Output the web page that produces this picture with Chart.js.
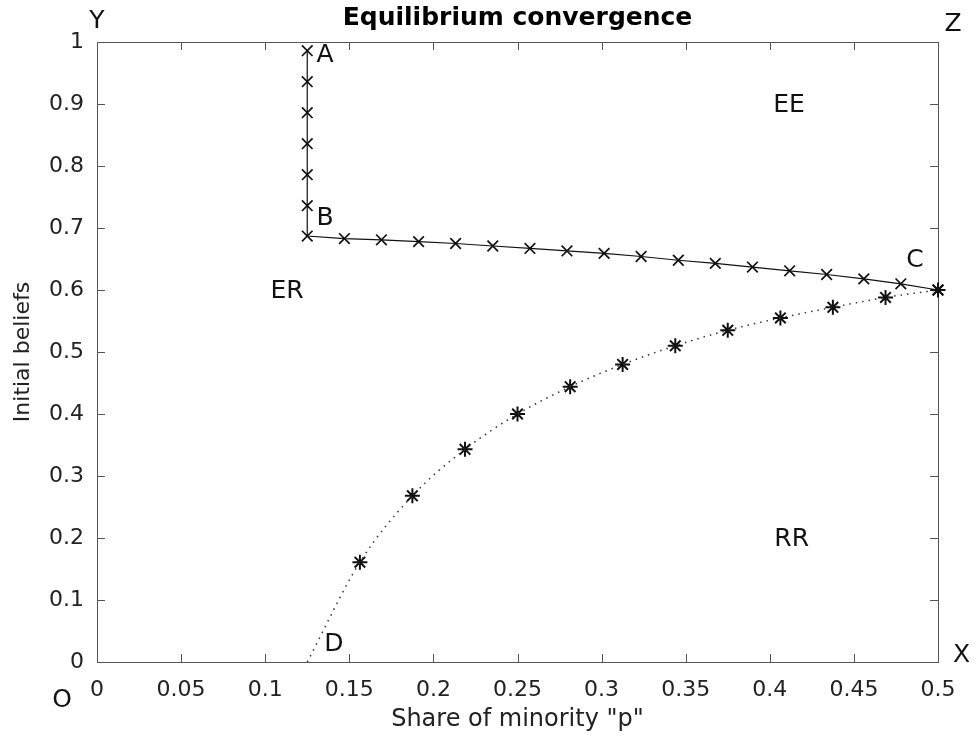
<!DOCTYPE html>
<html>
<head>
<meta charset="utf-8">
<script src="https://cdn.jsdelivr.net/npm/chart.js@4"></script>
<style>
  html, body { margin: 0; padding: 0; background: #fff; }
  #wrap { width: 974px; height: 744px; }
</style>
</head>
<body>
<div id="wrap"><canvas id="graf"></canvas></div>
<script>
// trajectory A -> B -> C (crosses)
const trajP = [0.125, 0.125, 0.125, 0.125, 0.125, 0.125, 0.125,
  0.1471, 0.1691, 0.1912, 0.2132, 0.2353, 0.2574, 0.2794, 0.3015, 0.3235,
  0.3456, 0.3676, 0.3897, 0.4118, 0.4338, 0.4559, 0.4779, 0.5];
const trajB = [0.986, 0.936, 0.886, 0.836, 0.786, 0.736, 0.687,
  0.683, 0.681, 0.678, 0.675, 0.671, 0.667, 0.663, 0.659, 0.654,
  0.648, 0.643, 0.637, 0.631, 0.625, 0.618, 0.610, 0.600];

// boundary D -> C (asterisks on a dotted curve)
const bordP = [0.1563, 0.1875, 0.2188, 0.25, 0.2813, 0.3125, 0.3438, 0.375, 0.4063, 0.4375, 0.4688, 0.5];
const bordB = [0.161, 0.268, 0.343, 0.400, 0.444, 0.480, 0.510, 0.535, 0.555, 0.572, 0.588, 0.600];
const pontoD = [0.125, 0];

// axis ticks
const xTicks = [0, 0.05, 0.1, 0.15, 0.2, 0.25, 0.3, 0.35, 0.4, 0.45, 0.5];
const xTickLabels = ['0', '0.05', '0.1', '0.15', '0.2', '0.25', '0.3', '0.35', '0.4', '0.45', '0.5'];
const yTicks = [0, 0.1, 0.2, 0.3, 0.4, 0.5, 0.6, 0.7, 0.8, 0.9, 1];
const yTickLabels = ['0', '0.1', '0.2', '0.3', '0.4', '0.5', '0.6', '0.7', '0.8', '0.9', '1'];

// letters on the figure (data coordinates)
const notaTexto = ['A', 'B', 'C', 'D', 'EE', 'ER', 'RR', 'X', 'Y', 'Z', 'O'];
const notaP = [0.1356, 0.1356, 0.4863, 0.1409, 0.4114, 0.113, 0.413, 0.514, 0.0, 0.509, -0.0208];
const notaB = [0.979, 0.715, 0.648, 0.028, 0.897, 0.597, 0.198, 0.0097, 1.033, 1.029, -0.062];

const fonte = "'DejaVu Sans', sans-serif";

const caixa = {
  id: 'caixa',
  beforeDatasetsDraw(chart) {
    const { ctx, chartArea: a, scales: { x, y } } = chart;
    ctx.save();
    ctx.strokeStyle = '#555';
    ctx.lineWidth = 1;
    ctx.strokeRect(a.left + 0.5, a.top + 0.5, a.right - a.left, a.bottom - a.top);
    ctx.beginPath();
    xTicks.forEach(v => {
      const px = Math.round(x.getPixelForValue(v)) + 0.5;
      ctx.moveTo(px, a.bottom); ctx.lineTo(px, a.bottom - 8);
      ctx.moveTo(px, a.top); ctx.lineTo(px, a.top + 8);
    });
    yTicks.forEach(v => {
      const py = Math.round(y.getPixelForValue(v)) + 0.5;
      ctx.moveTo(a.left, py); ctx.lineTo(a.left + 8, py);
      ctx.moveTo(a.right, py); ctx.lineTo(a.right - 8, py);
    });
    ctx.stroke();
    ctx.restore();
  },
  afterDatasetsDraw(chart) {
    const { ctx, scales: { x, y } } = chart;
    ctx.save();
    ctx.fillStyle = '#111';
    ctx.font = '25px ' + fonte;
    ctx.textAlign = 'center';
    ctx.textBaseline = 'middle';
    notaTexto.forEach((t, i) => {
      ctx.fillText(t, x.getPixelForValue(notaP[i]), y.getPixelForValue(notaB[i]));
    });
    ctx.restore();
  }
};

const ctx = document.getElementById('graf').getContext('2d');
new Chart(ctx, {
  type: 'scatter',
  data: {
    datasets: [
      {
        label: 'Trajectory',
        data: trajP.map((p, i) => ({ x: p, y: trajB[i] })),
        showLine: true,
        borderColor: '#111',
        borderWidth: 1.2,
        pointStyle: 'crossRot',
        pointRadius: 7.5,
        pointBorderWidth: 1.7,
        pointBorderColor: '#111',
        clip: false
      },
      {
        label: 'Boundary line',
        data: [{ x: pontoD[0], y: pontoD[1] }].concat(bordP.map((p, i) => ({ x: p, y: bordB[i] }))),
        showLine: true,
        borderColor: '#333',
        borderWidth: 1.5,
        borderDash: [1.5, 5],
        cubicInterpolationMode: 'monotone',
        pointRadius: 0,
        clip: false
      },
      {
        label: 'Boundary',
        data: bordP.map((p, i) => ({ x: p, y: bordB[i] })),
        showLine: false,
        pointStyle: 'star',
        pointRadius: 7.5,
        pointBorderWidth: 2,
        pointBorderColor: '#111',
        clip: false
      }
    ]
  },
  options: {
    responsive: true,
    maintainAspectRatio: false,
    animation: false,
    events: [],
    layout: { padding: { left: 0, right: 36, top: 0, bottom: 0 } },
    plugins: {
      legend: { display: false },
      tooltip: { enabled: false },
      title: {
        display: true,
        text: 'Equilibrium convergence',
        fullSize: false,
        color: '#000',
        font: { family: fonte, size: 25, weight: 'bold' },
        padding: { top: 3, bottom: 9 }
      }
    },
    scales: {
      x: {
        type: 'linear',
        min: 0,
        max: 0.5,
        afterBuildTicks: s => { s.ticks = xTicks.map(v => ({ value: v })); },
        afterFit: s => { s.height = 82; },
        grid: { display: false },
        border: { display: false },
        ticks: {
          color: '#222',
          font: { family: fonte, size: 22 },
          padding: 7,
          maxRotation: 0,
          autoSkip: false,
          callback: (v) => xTickLabels[xTicks.indexOf(v)]
        },
        title: {
          display: true,
          text: 'Share of minority "p"',
          color: '#222',
          font: { family: fonte, size: 24 },
          padding: { top: 0, bottom: 10 }
        }
      },
      y: {
        type: 'linear',
        min: 0,
        max: 1,
        afterBuildTicks: s => { s.ticks = yTicks.map(v => ({ value: v })); },
        afterFit: s => { s.width = 97; },
        grid: { display: false },
        border: { display: false },
        ticks: {
          color: '#222',
          font: { family: fonte, size: 22 },
          padding: 5,
          autoSkip: false,
          callback: (v) => yTickLabels[yTicks.indexOf(v)]
        },
        title: {
          display: true,
          text: 'Initial beliefs',
          color: '#222',
          font: { family: fonte, size: 22 },
          padding: { top: 10, bottom: 0 }
        }
      }
    }
  },
  plugins: [caixa]
});
</script>
</body>
</html>
